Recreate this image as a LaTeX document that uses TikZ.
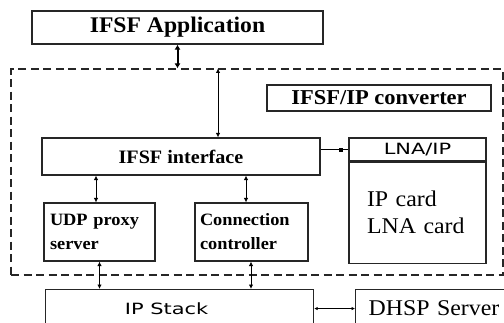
\documentclass[tikz,border=0pt]{standalone}
\usepackage{fontspec}
\setmainfont{Liberation Serif}[FakeStretch=1.06]
\newfontfamily\widesans{DejaVu Sans}[FakeStretch=1.35]
\usepackage{tikz}
\usetikzlibrary{positioning}
\usetikzlibrary{shapes,arrows.meta}
\tikzstyle{block} = [rectangle, draw=black!85, line width=1.1pt, inner sep=0pt]
\tikzstyle{title} = [block, font=\bfseries\fontsize{22.3}{26}\selectfont]
\tikzstyle{unit} = [block, align=left, font=\bfseries\fontsize{17.3}{24}\selectfont]
\tikzstyle{card} = [block, align=left, font=\fontsize{22.5}{27}\selectfont]
\tikzstyle{sans} = [font=\widesans\fontsize{15.5}{17}\selectfont]
\tikzstyle{frame} = [rectangle, draw=black!85, line width=1.1pt, dash pattern=on 8pt off 4.5pt]
\tikzstyle{knot} = [rectangle, fill=black, inner sep=0pt, minimum size=4pt]
\tikzstyle{plain} = [draw, line width=0.9pt]
\tikzstyle{line} = [draw, line width=0.9pt, {Latex[length=4.5pt,width=4.5pt]}-{Latex[length=4.5pt,width=4.5pt]}]
\tikzstyle{fatline} = [draw, line width=2pt, {Latex[length=5pt,width=6pt]}-{Latex[length=5pt,width=6pt]}]

\begin{document}
\begin{tikzpicture}[x=1pt, y=1pt]
    \clip (0,0) rectangle (504,-322);
        % Nodes
    \node [title, minimum width=291pt, minimum height=33pt] (app) at (177.5,-27.5) {IFSF Application};
    \node [frame, minimum width=492pt, minimum height=206pt] (conv) at (257,-172) {};
    \node [title, font=\bfseries\fontsize{21.2}{24}\selectfont, minimum width=224pt, minimum height=26pt] (cvtitle) at (379,-98) {IFSF/IP converter};
    \node [title, font=\bfseries\fontsize{19}{22}\selectfont, minimum width=278pt, minimum height=37pt] (iface) at (181,-156.5) {IFSF interface};
    \node [block, sans, minimum width=137pt, minimum height=23pt] (lnahead) at (417.5,-149.5) {LNA/IP};
    \node [card, below = 0pt of lnahead, text width=101pt, inner xsep=18pt, minimum height=101pt] (lnabody) {IP card\\LNA card};
    \node [unit, text width=99pt, inner xsep=6pt, minimum height=58pt] (udp) at (99.5,-232) {UDP proxy\\server};
    \node [unit, text width=103pt, inner xsep=5pt, minimum height=58pt] (conn) at (251.5,-232) {Connection\\controller};
    \node [block, minimum width=268pt, minimum height=38pt, anchor=north west] (stack) at (45,-289) {};
    \node [sans] (stacklbl) at ([xshift=-13pt]stack.center) {IP Stack};
    \node [card, right = 41pt of stack.north east, anchor=north west, text width=140pt, inner xsep=13pt, minimum height=38pt] (dhsp) {DHSP Server};
    \coordinate (tap) at ([xshift=37pt]iface.north);
    \coordinate (udptop) at ([xshift=-3.5pt]udp.north);
    \coordinate (conntop) at ([xshift=-5.5pt]conn.north);
    \coordinate (connbot) at ([xshift=-0.5pt]conn.south);
        % Edges
    \path [fatline] (app.south) -- (app.south |- conv.north);
    \path [line] (tap |- conv.north) -- (tap);
    \path [line] (udptop |- iface.south) -- (udptop);
    \path [line] (conntop |- iface.south) -- (conntop);
    \path [line] (udp.south) -- (udp.south |- stack.north);
    \path [line] (connbot) -- (connbot |- stack.north);
    \path [plain] (iface.east |- lnahead) -- node[pos=0.72, knot] (kn) {} (lnahead.west);
    \path [line, {Latex[length=3.5pt,width=3.5pt]}-{Latex[length=3.5pt,width=3.5pt]}] (stack.east) -- (dhsp.west);
\end{tikzpicture}
\end{document}
